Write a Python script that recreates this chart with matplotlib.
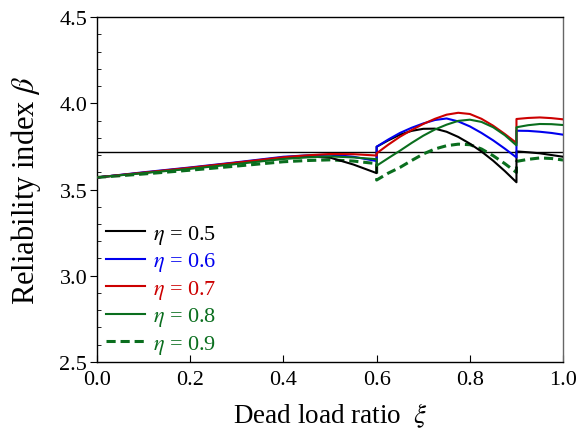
import numpy as np
import matplotlib
matplotlib.use("Agg")
import matplotlib.pyplot as plt
from matplotlib.ticker import MultipleLocator

plt.rcParams["font.family"] = ["Liberation Serif", "DejaVu Serif"]
plt.rcParams["mathtext.fontset"] = "stix"

# dead load ratio, three pieces with jumps at 0.6 and 0.9
xi_a = [0.0, 0.1, 0.2, 0.3, 0.4, 0.45, 0.5, 0.55, 0.6]
xi_b = [0.6, 0.625, 0.65, 0.675, 0.7, 0.725, 0.75, 0.775, 0.8, 0.825, 0.85, 0.875, 0.9]
xi_c = [0.9, 0.925, 0.95, 0.975, 1.0]

etas = ["0.5", "0.6", "0.7", "0.8", "0.9"]

beta_a = {
    "0.5": [3.57, 3.597, 3.624, 3.655, 3.685, 3.692, 3.685, 3.645, 3.595],
    "0.6": [3.57, 3.600, 3.628, 3.658, 3.690, 3.698, 3.702, 3.690, 3.665],
    "0.7": [3.57, 3.598, 3.626, 3.656, 3.687, 3.698, 3.706, 3.705, 3.697],
    "0.8": [3.57, 3.595, 3.620, 3.648, 3.677, 3.686, 3.692, 3.686, 3.676],
    "0.9": [3.57, 3.590, 3.612, 3.636, 3.661, 3.668, 3.672, 3.665, 3.650],
}
beta_b = {
    "0.5": [3.748, 3.785, 3.818, 3.840, 3.852, 3.853, 3.835, 3.805, 3.766, 3.720, 3.667, 3.607, 3.542],
    "0.6": [3.748, 3.790, 3.828, 3.858, 3.883, 3.903, 3.912, 3.895, 3.866, 3.828, 3.785, 3.737, 3.686],
    "0.7": [3.710, 3.760, 3.806, 3.845, 3.880, 3.910, 3.934, 3.945, 3.938, 3.910, 3.870, 3.822, 3.770],
    "0.8": [3.638, 3.682, 3.725, 3.770, 3.812, 3.848, 3.876, 3.898, 3.905, 3.892, 3.861, 3.815, 3.756],
    "0.9": [3.555, 3.595, 3.628, 3.668, 3.706, 3.735, 3.754, 3.763, 3.760, 3.735, 3.696, 3.650, 3.599],
}
beta_c = {
    "0.5": [3.721, 3.716, 3.710, 3.700, 3.690],
    "0.6": [3.841, 3.840, 3.835, 3.828, 3.818],
    "0.7": [3.909, 3.915, 3.918, 3.914, 3.907],
    "0.8": [3.861, 3.873, 3.880, 3.879, 3.874],
    "0.9": [3.663, 3.675, 3.683, 3.680, 3.671],
}
beta_target = 3.72

colors = {"0.5": "#000000", "0.6": "#0000ee", "0.7": "#cc0000",
          "0.8": "#0a6e1e", "0.9": "#0a6e1e"}

fig = plt.figure(figsize=(5.79, 4.31), dpi=100)
ax = fig.add_axes([0.1675, 0.158, 0.805, 0.8])

ax.axhline(beta_target, color="black", lw=1.0, zorder=1)

xi_all = np.concatenate([xi_a, xi_b, xi_c])
for eta in etas:
    b = np.concatenate([beta_a[eta], beta_b[eta], beta_c[eta]])
    if eta == "0.9":
        ax.plot(xi_all, b, color=colors[eta], lw=2.2, ls=(0, (3, 1.6)),
                label=r"$\eta$ = " + eta, zorder=2)
    else:
        ax.plot(xi_all, b, color=colors[eta], lw=1.5,
                label=r"$\eta$ = " + eta, zorder=3)

ax.set_xlim(0, 1)
ax.set_ylim(2.5, 4.5)
ax.set_xticks(np.arange(0, 1.01, 0.2))
ax.set_yticks(np.arange(2.5, 4.51, 0.5))
ax.yaxis.set_minor_locator(MultipleLocator(0.1))
ax.xaxis.set_major_formatter(plt.FormatStrFormatter("%.1f"))
ax.yaxis.set_major_formatter(plt.FormatStrFormatter("%.1f"))
ax.tick_params(axis="x", which="major", direction="in", length=5, labelsize=16, pad=6)
ax.tick_params(axis="y", which="major", direction="out", length=5, labelsize=16, pad=2)
ax.tick_params(axis="y", which="minor", direction="in", length=3)
for s in ax.spines.values():
    s.set_linewidth(1.0)
ax.spines["right"].set_color("#666666")

ax.set_xlabel(r"Dead load ratio  $\xi$", fontsize=19.5, labelpad=8)
ax.set_ylabel(r"Reliability index $\beta$", fontsize=22, labelpad=12)

leg = ax.legend(loc="lower left", frameon=False, fontsize=16, handlelength=1.75,
                handletextpad=0.35, labelspacing=0.2, borderaxespad=0.0,
                bbox_to_anchor=(0.0, -0.008))
for txt, eta in zip(leg.get_texts(), etas):
    txt.set_color(colors[eta])

fig.savefig("out.png", dpi=100)
